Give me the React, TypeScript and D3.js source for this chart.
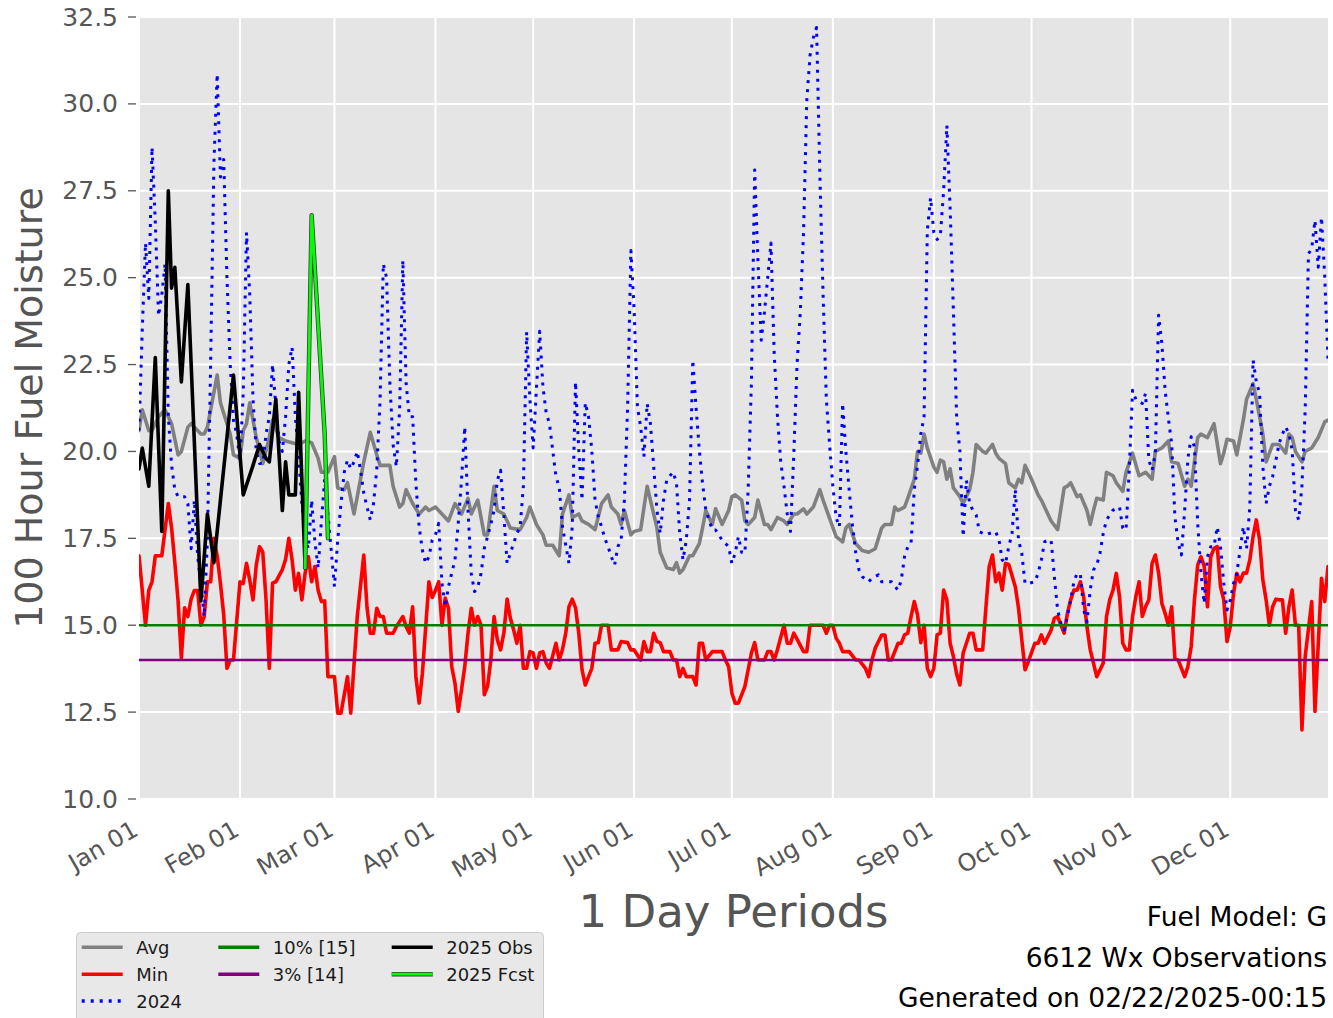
import React, { useEffect, useRef } from "react";
import * as d3 from "d3";

// ---------- DATA (day of year 2024 offset, value) ----------
const YEAR = 2024;

const avgData: [number, number][] = [
  [0,20.6],[1,21.2],[3,20.6],[4,20.6],[6,21.0],[8,21.2],[10,20.8],[12,19.9],[13,20.0],[15,20.7],[16,20.8],[19,20.5],[20,20.5],[21,20.7],[24,22.2],[25,21.4],[26,21.1],[28,20.5],[29,19.9],[31,19.8],[32,20.6],[33,20.8],[34,21.4],[36,20.4],[38,19.65],[40,20.4],[41,20.9],[43,20.4],[45,20.3],[49,20.2],[51,20.3],[53,20.25],[55,19.8],[56,19.4],[58,19.4],[60,19.85],[61,18.95],[63,18.9],[64,19.1],[66,18.2],[67,18.7],[69,19.7],[71,20.55],[73,19.9],[74,19.6],[77,19.6],[78,19.0],[80,18.4],[81,18.5],[82,18.9],[84,18.5],[86,18.2],[88,18.4],[89,18.3],[91,18.4],[93,18.2],[95,18.0],[97,18.5],[99,18.2],[101,18.65],[102,18.2],[104,18.6],[106,17.6],[107,17.6],[109,19.0],[110,18.3],[112,18.2],[114,17.8],[117,17.75],[119,18.1],[120,18.4],[122,17.9],[124,17.6],[125,17.3],[127,17.3],[129,17.0],[130,18.2],[132,18.75],[133,18.1],[135,18.2],[136,18.0],[138,17.9],[140,17.75],[142,18.5],[144,18.75],[145,18.4],[147,18.2],[148,17.9],[149,18.3],[151,17.6],[152,17.7],[154,17.75],[156,19.0],[157,18.6],[159,17.8],[160,17.1],[162,16.65],[164,16.6],[165,16.8],[166,16.5],[167,16.6],[169,17.0],[170,17.0],[172,17.35],[173,17.8],[174,18.3],[176,17.9],[177,18.35],[179,17.9],[181,18.3],[182,18.7],[183,18.75],[185,18.6],[186,18.0],[187,17.9],[189,18.1],[190,18.6],[192,17.9],[193,17.9],[194,17.75],[196,18.1],[198,18.0],[199,17.9],[201,18.2],[202,18.2],[204,18.35],[205,18.2],[207,18.4],[209,18.9],[210,18.6],[214,17.55],[216,17.4],[217,17.8],[218,17.9],[220,17.35],[222,17.15],[224,17.1],[226,17.2],[228,17.8],[229,17.9],[231,17.9],[232,18.4],[233,18.3],[235,18.4],[236,18.65],[238,19.2],[239,20.0],[240,19.95],[241,20.5],[242,20.1],[244,19.55],[245,19.4],[246,19.75],[247,19.7],[248,19.2],[249,19.5],[250,18.95],[252,18.7],[253,18.5],[255,18.9],[256,19.4],[257,20.2],[259,20.0],[260,19.95],[262,20.2],[263,19.95],[264,19.8],[266,19.65],[267,19.1],[269,18.95],[270,19.2],[271,19.1],[272,19.6],[274,19.2],[276,18.75],[277,18.6],[280,18.0],[282,17.75],[284,18.95],[285,19.0],[286,19.1],[288,18.7],[289,18.75],[291,18.3],[292,17.9],[293,18.3],[294,18.65],[296,18.6],[297,19.4],[299,19.3],[300,19.1],[302,18.85],[303,19.4],[305,19.95],[307,19.3],[309,19.4],[311,19.2],[312,20.0],[314,20.1],[316,20.3],[317,19.7],[319,19.65],[321,19.0],[322,19.2],[323,19.0],[325,20.4],[326,20.5],[328,20.4],[330,20.8],[332,19.65],[333,19.95],[334,20.35],[336,20.3],[337,19.9],[339,20.9],[340,21.5],[342,21.95],[343,21.5],[345,20.5],[346,19.7],[348,20.2],[350,20.2],[352,19.95],[353,20.5],[354,20.4],[355,20.0],[357,19.7],[358,20.0],[360,20.1],[362,20.4],[364,20.85],[365,20.9]
];

const minData: [number, number][] = [
  [0,17.0],[2,15.0],[3,16.0],[4,16.25],[5,17.0],[7,17.0],[9,18.5],[10,17.8],[11,16.8],[12,15.7],[13,14.05],[14,15.5],[15,15.25],[16,15.75],[17,16.0],[18,16.0],[19,15.0],[20,15.25],[21,16.25],[22,16.25],[23,17.5],[24,17.0],[25,16.2],[26,15.3],[27,13.76],[28,14.0],[29,14.0],[31,16.25],[32,16.2],[33,16.78],[34,16.3],[35,15.73],[36,16.73],[37,17.26],[38,17.1],[39,15.73],[40,13.76],[41,16.21],[42,16.25],[44,16.6],[45,16.9],[46,17.5],[47,16.88],[48,16.01],[49,16.49],[50,15.73],[51,16.5],[52,16.97],[53,16.25],[54,16.69],[55,16.0],[56,15.68],[57,15.7],[58,13.52],[60,13.52],[61,12.47],[62,12.47],[64,13.52],[65,12.47],[67,15.25],[69,17.02],[70,15.5],[71,14.77],[72,14.77],[73,15.49],[74,15.25],[75,15.25],[76,14.77],[78,14.77],[79,14.96],[81,15.25],[82,14.96],[83,14.77],[84,15.53],[85,13.52],[86,12.76],[87,13.62],[89,16.25],[90,15.8],[91,16.0],[92,16.25],[93,15.0],[94,15.78],[95,15.49],[96,13.81],[97,13.33],[98,12.52],[99,13.14],[100,13.81],[101,14.77],[102,15.49],[103,15.0],[104,15.25],[105,15.0],[106,13.0],[107,13.24],[108,14.0],[109,15.25],[110,14.58],[111,14.29],[112,14.77],[113,15.75],[114,15.2],[115,14.87],[116,14.48],[117,15.0],[118,13.76],[119,13.76],[120,14.24],[121,14.2],[122,13.76],[123,14.2],[124,14.24],[125,13.91],[126,13.76],[128,14.48],[129,14.0],[130,14.3],[131,14.77],[132,15.53],[133,15.75],[134,15.5],[135,14.77],[136,13.72],[137,13.28],[138,13.52],[139,13.76],[140,14.48],[141,14.5],[142,15.0],[144,15.0],[145,14.29],[147,14.29],[148,14.53],[150,14.5],[151,14.29],[152,14.29],[154,14.0],[155,14.53],[156,14.24],[157,14.24],[158,14.77],[159,14.53],[160,14.5],[161,14.24],[163,14.24],[164,14.0],[165,14.0],[166,13.52],[167,13.76],[168,13.52],[170,13.52],[171,13.28],[172,14.48],[173,14.48],[174,14.0],[176,14.24],[179,14.24],[180,14.0],[181,13.81],[182,13.05],[183,12.76],[184,12.76],[186,13.24],[188,14.2],[189,14.5],[190,14.0],[192,14.0],[193,14.24],[194,14.24],[195,14.0],[196,14.3],[198,15.0],[199,14.48],[200,14.48],[201,14.77],[202,14.6],[204,14.24],[205,14.24],[206,15.0],[210,15.0],[211,14.77],[212,15.0],[213,15.0],[214,14.63],[215,14.48],[216,14.24],[218,14.24],[220,14.0],[221,14.0],[223,13.76],[224,13.52],[225,14.0],[226,14.34],[228,14.72],[229,14.72],[230,14.0],[231,14.0],[232,14.24],[233,14.48],[234,14.48],[235,14.72],[236,14.77],[237,15.25],[238,15.68],[239,15.3],[240,14.5],[241,15.0],[242,13.76],[243,13.52],[244,13.76],[245,14.72],[246,14.77],[247,16.01],[248,15.73],[249,14.48],[250,14.1],[251,13.6],[252,13.28],[253,14.2],[255,14.77],[256,14.77],[257,14.29],[259,14.29],[260,15.53],[261,16.69],[262,17.02],[263,16.25],[264,16.5],[265,16.01],[266,16.78],[267,16.75],[269,16.11],[270,15.49],[271,14.58],[272,13.72],[273,13.95],[275,14.48],[276,14.48],[277,14.72],[278,14.48],[280,14.86],[281,15.2],[282,15.25],[284,14.77],[285,15.34],[286,15.73],[287,16.01],[288,16.01],[289,16.25],[290,15.82],[291,14.96],[292,14.3],[294,13.52],[296,13.91],[297,15.25],[298,15.73],[299,16.01],[300,16.49],[301,15.82],[302,14.48],[303,14.29],[304,14.29],[305,15.25],[306,15.82],[307,16.25],[308,15.25],[309,15.53],[310,15.73],[311,16.78],[312,17.02],[313,16.5],[314,15.63],[315,15.34],[316,15.0],[317,15.53],[318,14.05],[319,14.0],[321,13.52],[322,13.81],[323,14.39],[324,15.73],[325,16.73],[326,16.97],[327,16.7],[328,15.53],[329,16.97],[330,17.21],[331,17.26],[332,16.11],[333,15.73],[334,14.53],[335,14.96],[336,15.92],[337,16.49],[338,16.25],[339,16.5],[340,16.5],[341,16.88],[342,17.55],[343,18.03],[344,17.45],[345,16.3],[346,15.73],[347,15.0],[348,15.53],[349,15.75],[350,15.73],[351,15.73],[352,14.77],[353,15.53],[354,16.01],[355,15.0],[356,15.0],[357,11.99],[358,14.1],[360,15.68],[361,12.52],[363,16.35],[364,15.68],[365,16.69]
];

const data2024: [number, number][] = [
  [0,20.6],[1,23.5],[2,26.0],[3,24.4],[4,28.75],[5,26.6],[6,23.9],[7,24.5],[8,25.4],[9,21.0],[10,19.6],[11,18.9],[12,18.7],[13,18.7],[14,18.7],[15,18.5],[16,17.2],[17,18.6],[18,17.0],[19,16.2],[20,15.25],[21,17.45],[22,22.6],[23,28.3],[24,30.86],[25,27.9],[26,28.4],[27,25.0],[28,22.5],[29,20.9],[30,20.5],[31,19.7],[32,21.7],[33,26.3],[34,24.5],[35,21.5],[36,20.0],[37,19.65],[38,19.65],[39,20.5],[40,21.0],[41,22.5],[42,21.3],[43,20.3],[44,20.0],[45,21.0],[46,22.5],[47,23.0],[48,21.0],[49,19.85],[50,18.5],[51,17.5],[52,17.2],[53,18.6],[54,17.4],[55,16.64],[56,18.0],[57,19.2],[58,18.2],[59,17.16],[60,16.11],[61,17.45],[62,18.5],[63,19.4],[64,19.75],[65,19.5],[66,19.7],[67,20.0],[68,19.46],[69,18.8],[70,18.4],[71,18.03],[72,18.5],[73,19.5],[74,21.47],[75,25.4],[76,25.0],[77,22.0],[78,20.2],[79,19.56],[80,21.2],[81,25.5],[82,21.95],[83,21.0],[84,21.0],[85,19.08],[86,17.83],[87,17.16],[88,16.78],[89,16.97],[90,17.45],[91,17.6],[92,17.93],[93,16.21],[94,15.53],[95,16.11],[96,16.5],[97,16.88],[98,17.93],[99,19.17],[100,20.71],[101,18.31],[102,16.49],[103,15.97],[104,16.1],[105,16.49],[106,17.21],[107,17.55],[108,17.9],[109,18.31],[110,19.17],[111,19.46],[112,18.17],[113,16.78],[114,17.07],[115,17.36],[116,17.64],[117,17.83],[118,19.0],[119,23.44],[120,21.5],[121,20.1],[122,21.8],[123,23.46],[124,21.86],[125,21.11],[126,20.8],[127,20.04],[128,19.27],[129,18.98],[130,17.83],[131,17.3],[132,16.78],[133,17.83],[134,22.0],[135,20.04],[136,18.6],[137,21.4],[138,21.0],[139,20.04],[140,18.6],[141,18.12],[142,17.83],[143,17.5],[144,17.26],[145,16.97],[146,16.73],[147,17.26],[148,17.45],[149,18.6],[150,21.28],[151,25.78],[152,24.06],[153,21.28],[154,20.71],[155,19.85],[156,21.38],[157,20.8],[158,19.56],[159,18.31],[160,17.64],[161,18.6],[162,19.17],[163,19.3],[164,19.41],[165,19.08],[166,17.64],[167,16.88],[168,17.45],[169,18.6],[170,22.63],[171,21.28],[172,20.04],[173,19.08],[174,18.31],[176,17.74],[177,17.74],[179,17.45],[181,17.26],[182,16.78],[183,17.07],[184,17.55],[185,17.1],[186,17.07],[187,18.9],[188,22.0],[189,28.1],[190,25.5],[191,23.2],[192,24.0],[193,25.0],[194,26.0],[195,22.8],[196,21.0],[197,19.7],[198,19.0],[199,18.2],[200,17.7],[201,19.9],[202,22.5],[203,24.0],[204,26.3],[205,30.1],[206,31.4],[207,31.9],[208,32.2],[209,28.0],[210,24.5],[211,21.5],[212,20.2],[213,19.0],[214,18.1],[215,17.83],[216,21.38],[217,20.0],[218,18.9],[219,17.9],[220,17.1],[221,16.6],[222,16.4],[224,16.25],[225,16.35],[227,16.45],[228,16.25],[231,16.25],[233,16.01],[234,16.3],[235,16.97],[236,17.26],[237,17.36],[238,18.9],[239,19.6],[240,20.5],[241,21.0],[242,26.36],[243,27.3],[244,26.3],[245,26.1],[246,26.2],[247,27.5],[248,29.38],[249,27.0],[250,24.06],[251,21.0],[252,20.0],[253,17.55],[254,19.17],[255,18.5],[256,18.3],[257,18.17],[258,17.69],[260,17.6],[261,17.64],[263,17.69],[264,17.45],[265,16.88],[266,16.78],[267,17.26],[268,17.64],[269,18.9],[270,17.45],[271,17.07],[272,16.2],[273,16.2],[275,16.25],[276,16.49],[277,16.88],[278,17.4],[279,17.45],[280,17.45],[281,16.4],[282,15.44],[283,15.06],[284,14.86],[285,15.25],[286,15.73],[287,16.25],[288,16.5],[289,16.45],[290,15.44],[291,15.1],[292,16.01],[293,16.59],[294,16.73],[295,17.07],[296,17.64],[297,18.03],[298,18.17],[299,18.31],[301,18.4],[302,17.8],[303,17.74],[304,19.5],[305,21.76],[306,21.5],[308,21.38],[309,21.67],[310,19.75],[311,19.46],[312,19.94],[313,23.92],[314,23.1],[315,21.76],[316,20.95],[317,20.23],[318,18.12],[319,17.36],[320,17.02],[321,18.31],[322,19.8],[323,20.42],[324,20.13],[325,17.93],[326,16.5],[327,15.63],[328,16.97],[329,17.26],[330,17.26],[331,17.83],[332,17.26],[333,16.21],[334,15.44],[335,15.73],[336,16.2],[337,16.49],[338,17.16],[339,17.83],[340,17.2],[341,18.41],[342,22.63],[343,22.0],[344,21.67],[345,19.56],[346,18.5],[347,19.0],[348,19.27],[349,19.75],[350,20.23],[351,20.5],[352,20.71],[353,20.5],[354,20.04],[355,18.31],[356,18.03],[357,19.0],[358,21.19],[359,25.69],[360,25.83],[361,26.65],[362,25.3],[363,26.74],[364,25.02],[365,22.63]
];

const obs2025: [number, number][] = [
  [0,19.5],[1,20.1],[3,19.0],[5,22.7],[7,17.7],[9,27.5],[10,24.7],[11,25.3],[13,22.0],[15,24.8],[19,15.7],[21,18.2],[23,16.8],[29,22.2],[32,18.75],[35,19.6],[37,20.2],[39,19.8],[40,19.7],[42,21.5],[44,18.3],[45,19.7],[46,18.75],[48,18.75],[49,21.7],[51,16.65]
];

const fcst2025: [number, number][] = [
  [51,16.65],[53,26.8],[57,20.5],[58,17.5]
];

const pct10Value = 15;
const pct3Value = 14;

const yTickValues = [10, 12.5, 15, 17.5, 20, 22.5, 25, 27.5, 30, 32.5];

const infoLines = ["Fuel Model: G", "6612 Wx Observations", "Generated on 02/22/2025-00:15"];

const legendItems = [
  { label: "Avg", color: "#808080", dash: null, col: 0, row: 0 },
  { label: "Min", color: "#ff0000", dash: null, col: 0, row: 1 },
  { label: "2024", color: "#0000ff", dash: "3,6", col: 0, row: 2 },
  { label: "10% [15]", color: "#008000", dash: null, col: 1, row: 0 },
  { label: "3% [14]", color: "#800080", dash: null, col: 1, row: 1 },
  { label: "2025 Obs", color: "#000000", dash: null, col: 2, row: 0 },
  { label: "2025 Fcst", color: "#00ff00", dash: null, col: 2, row: 1 },
];

const FONT = "DejaVu Sans, Verdana, sans-serif";

export default function App() {
  const ref = useRef<SVGSVGElement | null>(null);

  useEffect(() => {
    const W = 1333, H = 1018;
    const left = 139, right = 1328, top = 17, bottom = 799;
    const svg = d3.select(ref.current);
    svg.selectAll("*").remove();

    const toDate = (d: number) => new Date(Date.UTC(YEAR, 0, 1 + d));
    const x = d3.scaleUtc()
      .domain([new Date(Date.UTC(YEAR, 0, 1)), new Date(Date.UTC(YEAR, 11, 31))])
      .range([left, right]);
    const y = d3.scaleLinear().domain([10, 32.5]).range([bottom, top]);

    svg.append("rect").attr("width", W).attr("height", H).attr("fill", "#ffffff");
    svg.append("rect").attr("x", left).attr("y", top)
      .attr("width", right - left).attr("height", bottom - top).attr("fill", "#e5e5e5");

    const monthTicks = d3.utcMonth.range(new Date(Date.UTC(YEAR, 0, 1)), new Date(Date.UTC(YEAR, 11, 31)));
    const fmt = d3.utcFormat("%b %d");

    // grid
    const grid = svg.append("g");
    monthTicks.forEach((m) => {
      grid.append("line").attr("x1", x(m)).attr("x2", x(m)).attr("y1", top).attr("y2", bottom)
        .attr("stroke", "#ffffff").attr("stroke-width", 2);
    });
    yTickValues.forEach((v) => {
      grid.append("line").attr("x1", left).attr("x2", right).attr("y1", y(v)).attr("y2", y(v))
        .attr("stroke", "#ffffff").attr("stroke-width", 2);
    });

    // y ticks
    const yAxis = svg.append("g");
    yTickValues.forEach((v) => {
      yAxis.append("line").attr("x1", left - 11).attr("x2", left - 3).attr("y1", y(v)).attr("y2", y(v))
        .attr("stroke", "#555555").attr("stroke-width", 1.3);
      yAxis.append("text").attr("x", left - 21).attr("y", y(v))
        .attr("text-anchor", "end").attr("dominant-baseline", "central")
        .attr("font-family", FONT).attr("font-size", 25).attr("fill", "#555555")
        .text(v.toFixed(1));
    });

    // x tick labels
    const xAxis = svg.append("g");
    monthTicks.forEach((m) => {
      const tx = x(m);
      xAxis.append("text")
        .attr("transform", `translate(${tx - 8},${bottom + 20}) rotate(-30)`)
        .attr("text-anchor", "end").attr("dominant-baseline", "hanging")
        .attr("font-family", FONT).attr("font-size", 24).attr("fill", "#555555")
        .text(fmt(m));
    });

    // axis labels
    svg.append("text").attr("x", (left + right) / 2).attr("y", 927)
      .attr("text-anchor", "middle").attr("font-family", FONT).attr("font-size", 45).attr("fill", "#555555")
      .text("1 Day Periods");
    svg.append("text").attr("transform", `translate(42,${(top + bottom) / 2}) rotate(-90)`)
      .attr("text-anchor", "middle").attr("font-family", FONT).attr("font-size", 38).attr("fill", "#555555")
      .text("100 Hour Fuel Moisture");

    // clip
    svg.append("defs").append("clipPath").attr("id", "plotclip")
      .append("rect").attr("x", left).attr("y", top).attr("width", right - left).attr("height", bottom - top);
    const plot = svg.append("g").attr("clip-path", "url(#plotclip)");

    const line = d3.line<[number, number]>()
      .x((d) => x(toDate(d[0])))
      .y((d) => y(d[1]));

    const drawLine = (data: [number, number][], color: string, width: number, dash?: string) => {
      const p = plot.append("path").datum(data).attr("d", line)
        .attr("fill", "none").attr("stroke", color).attr("stroke-width", width)
        .attr("stroke-linejoin", "round").attr("stroke-linecap", dash ? "butt" : "round");
      if (dash) p.attr("stroke-dasharray", dash);
      return p;
    };

    drawLine(avgData, "#808080", 3.6);
    drawLine(minData, "#ff0000", 3.6);
    drawLine(data2024, "#0000ff", 3, "3,6");

    const hline = (v: number, color: string) =>
      plot.append("line").attr("x1", left).attr("x2", right).attr("y1", y(v)).attr("y2", y(v))
        .attr("stroke", color).attr("stroke-width", 2.6);
    hline(pct10Value, "#008000");
    hline(pct3Value, "#800080");

    drawLine(obs2025, "#000000", 3.6);
    drawLine(fcst2025, "#3a3a3a", 4.4);
    drawLine(fcst2025, "#00ff00", 2.8);

    // info text
    infoLines.forEach((t, i) => {
      svg.append("text").attr("x", 1327).attr("y", 926 + i * 40.5)
        .attr("text-anchor", "end").attr("font-family", FONT).attr("font-size", 26.5).attr("fill", "#000000")
        .text(t);
    });

    // legend
    const lg = svg.append("g");
    lg.append("rect").attr("x", 76.5).attr("y", 932.5).attr("width", 467).attr("height", 110).attr("rx", 4)
      .attr("fill", "#e8e8e8").attr("stroke", "#cccccc").attr("stroke-width", 1);
    const colX = [81.7, 218.3, 391.7];
    const rowY = [947.3, 974.2, 1001];
    legendItems.forEach((it) => {
      const lx = colX[it.col];
      const ly = rowY[it.row];
      if (it.label === "2025 Fcst") {
        lg.append("line").attr("x1", lx).attr("x2", lx + 41).attr("y1", ly).attr("y2", ly)
          .attr("stroke", "#3a3a3a").attr("stroke-width", 4.4);
      }
      const l = lg.append("line").attr("x1", lx).attr("x2", lx + 41).attr("y1", ly).attr("y2", ly)
        .attr("stroke", it.color).attr("stroke-width", it.label === "2025 Fcst" ? 2.8 : 3.4);
      if (it.dash) l.attr("stroke-dasharray", it.dash);
      lg.append("text").attr("x", lx + 54.5).attr("y", ly).attr("dominant-baseline", "central")
        .attr("font-family", FONT).attr("font-size", 18).attr("fill", "#1a1a1a").text(it.label);
    });
  }, []);

  return (
    <svg ref={ref} width={1333} height={1018}
      style={{ position: "absolute", left: 0, top: 0, display: "block" }} />
  );
}
